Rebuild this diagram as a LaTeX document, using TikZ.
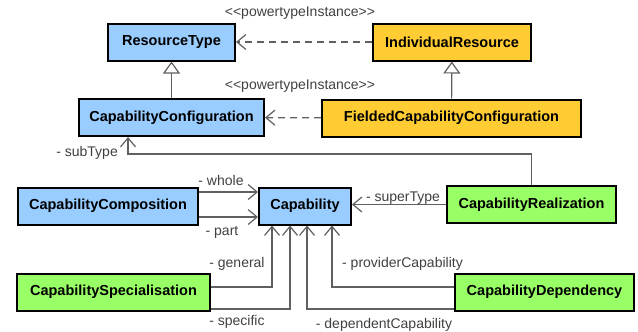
\documentclass[tikz,border=0pt]{standalone}
\usepackage{fontspec}
\setmainfont{Liberation Sans}[Ligatures=TeXOff]
\usetikzlibrary{arrows.meta}
\definecolor{typeblue}{HTML}{99CCFF}
\definecolor{indivorange}{HTML}{FFCC33}
\definecolor{relgreen}{HTML}{99FF66}
\definecolor{linegray}{HTML}{606060}
\definecolor{labelgray}{HTML}{404040}

\begin{document}
\begin{tikzpicture}[x=1pt, y=-1pt,
    umlclass/.style={draw=black, line width=2pt, inner sep=0pt, minimum height=37pt,
                     font=\bfseries\fontsize{14.5}{17}\selectfont},
    assoc/.style={draw=linegray, line width=1.2pt,
                  -{Straight Barb[length=9pt, width=15pt, line width=1.2pt]}},
    powertype/.style={assoc, dash pattern=on 7pt off 5pt},
    isa/.style={draw=linegray, line width=1.2pt,
                -{Triangle[open, length=12pt, width=17pt, line width=1.2pt, fill=white]}},
    role/.style={text=labelgray, inner sep=0pt, font=\fontsize{14}{16}\selectfont}]
  % picture size
  \useasboundingbox (0,0) rectangle (638,332);
  % classes: name / centre / width / fill / text
  \foreach \name/\xy/\w/\col/\txt in {
      rt/{(171.5,42)}/127/typeblue/ResourceType,
      ir/{(452,42)}/158/indivorange/IndividualResource,
      cc/{(171.5,117.5)}/185/typeblue/CapabilityConfiguration,
      fcc/{(451.5,118)}/259/indivorange/FieldedCapabilityConfiguration,
      ccomp/{(108,206)}/180/typeblue/CapabilityComposition,
      cap/{(305,206)}/92/typeblue/Capability,
      cr/{(531.5,204.5)}/169/relgreen/CapabilityRealization,
      cs/{(113.5,292)}/193/relgreen/CapabilitySpecialisation,
      cd/{(544.5,292)}/179/relgreen/CapabilityDependency}
  {
    \node[umlclass, minimum width=\w pt, fill=\col] (\name) at \xy {\txt};
  }
  % generalisations
  \draw[isa] (cc) -- (rt);
  \draw[isa] (fcc) -- (ir);
  % powertype instances
  \draw[powertype] (ir) -- (rt);
  \draw[powertype] (fcc) -- (cc);
  \node[role] (pti1) at (300,13) {<<powertypeInstance>>};
  \node[role] (pti2) at (300,86) {<<powertypeInstance>>};
  % associations
  \draw[assoc] (cr.north) -- ++(0,-31) -| ([xshift=-43.5pt]cc.south);
  \draw[assoc] ([yshift=14pt]ccomp.east) -- ([yshift=14pt]cap.west);
  \draw[assoc] ([yshift=-11pt]ccomp.east) -- ([yshift=-11pt]cap.west);
  \draw[assoc] (cr.west) -- (cr.west -| cap.east);
  \draw[assoc] ([yshift=5pt]cs.east) -| ([xshift=-33pt]cap.south);
  \draw[assoc] ([yshift=-17pt]cs.east) -| ([xshift=-15pt]cap.south);
  \draw[assoc] ([yshift=5pt]cd.west) -| ([xshift=27pt]cap.south);
  \draw[assoc] ([yshift=-17pt]cd.west) -| ([xshift=2pt]cap.south);
  % role names
  \node[role, anchor=east] (rsub) at (118,153) {- subType};
  \node[role] (rwhole) at (221,180) {- whole};
  \node[role] (rpart) at (222,232) {- part};
  \node[role] (rsuper) at (403,198) {- superType};
  \node[role] (rgen) at (237,264) {- general};
  \node[role] (rspec) at (237,322) {- specific};
  \node[role] (rprov) at (402.5,264) {- providerCapability};
  \node[role] (rdep) at (384,325) {- dependentCapability};
\end{tikzpicture}
\end{document}
